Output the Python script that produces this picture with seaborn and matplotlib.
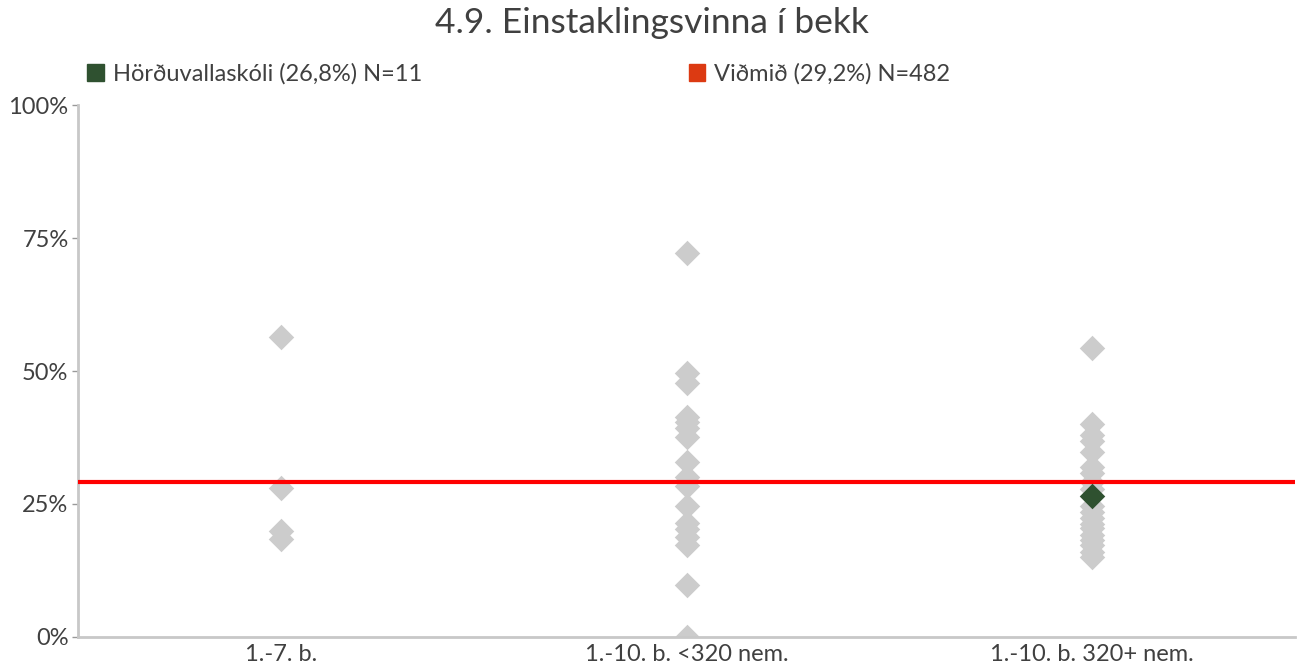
import pandas as pd
import seaborn as sns
import matplotlib.pyplot as plt
from matplotlib.patches import Patch

# ---------------------------------------
# Data
# ---------------------------------------
categories = ["1.-7. b.", "1.-10. b. <320 nem.", "1.-10. b. 320+ nem."]

grp_small = [56.5, 28.0, 19.9, 18.4]
grp_mid = [72.3, 49.6, 47.8, 41.4, 40.5, 39.3, 37.5, 32.8, 30.1, 29.3,
           28.3, 24.6, 21.4, 20.3, 18.7, 17.2, 9.7, 0.0]
grp_large = [54.3, 40.0, 38.0, 36.8, 34.8, 32.0, 30.8, 29.2, 27.8, 24.6,
             23.4, 22.4, 21.3, 20.4, 19.2, 18.2, 17.2, 16.0, 15.0]

school_name = "Hörðuvallaskóli (26,8%) N=11"
school_cat = "1.-10. b. 320+ nem."
school_value = 26.4

ref_name = "Viðmið (29,2%) N=482"
ref_value = 29.2

title = "4.9. Einstaklingsvinna í bekk"

df = pd.DataFrame({
    "Flokkur": [categories[0]] * len(grp_small)
    + [categories[1]] * len(grp_mid)
    + [categories[2]] * len(grp_large),
    "Gildi": grp_small + grp_mid + grp_large,
})
df_school = pd.DataFrame({"Flokkur": [school_cat], "Gildi": [school_value]})

# ---------------------------------------
# Style
# ---------------------------------------
sns.set_theme(style="white")
plt.rcParams["font.family"] = ["Lato", "DejaVu Sans"]
text_col = "#404040"
green = "#2f5130"
orange = "#dc3a12"

fig = plt.figure(figsize=(13.04, 6.71), dpi=100)
ax = fig.add_axes([0.06, 0.051, 0.933, 0.792])

sns.stripplot(data=df, x="Flokkur", y="Gildi", order=categories,
              jitter=False, marker="D", s=13, color="#cccccc",
              linewidth=0, ax=ax, zorder=2)
ax.axhline(ref_value, color="#ff0000", lw=3, zorder=3)
sns.stripplot(data=df_school, x="Flokkur", y="Gildi", order=categories,
              jitter=False, marker="D", s=13, color=green,
              linewidth=0, ax=ax, zorder=4)

ax.set_xlim(-0.5, 2.5)
ax.set_ylim(0, 100)
ax.set_yticks([0, 25, 50, 75, 100])
ax.set_yticklabels(["0%", "25%", "50%", "75%", "100%"])
ax.set_xlabel("")
ax.set_ylabel("")

for side in ["top", "right"]:
    ax.spines[side].set_visible(False)
for side in ["left", "bottom"]:
    ax.spines[side].set_color("#c8c8c8")
    ax.spines[side].set_linewidth(2)

ax.tick_params(axis="y", length=4, width=1, color="#999999",
               labelsize=17, labelcolor=text_col, pad=3, left=True)
ax.tick_params(axis="x", length=0, labelsize=17, labelcolor=text_col, pad=5)

fig.text(0.5, 0.965, title, ha="center", va="center",
         fontsize=25.5, color=text_col)

# legend: two entries placed apart as in the reference
for color, label, x0 in [(green, school_name, 0.067), (orange, ref_name, 0.528)]:
    fig.legend(handles=[Patch(color=color, label=label)], loc="center left",
               bbox_to_anchor=(x0, 0.89), frameon=False, fontsize=17,
               labelcolor=text_col, handlelength=0.7, handleheight=0.7,
               handletextpad=0.4, borderaxespad=0, borderpad=0)

fig.savefig("out.png", dpi=100)
